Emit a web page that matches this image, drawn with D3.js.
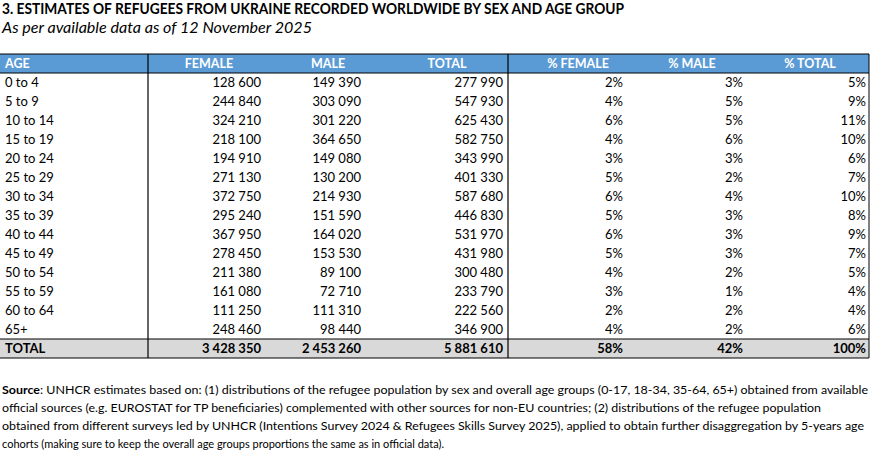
<!DOCTYPE html>
<html><head><meta charset="utf-8">
<script src="https://cdn.jsdelivr.net/npm/d3@7"></script>
<style>body{margin:0;background:#fff}text{font-family:Lato,"Noto Sans",sans-serif}</style>
</head><body><div id="chart"></div>
<script>
var ages = ["0 to 4","5 to 9","10 to 14","15 to 19","20 to 24","25 to 29","30 to 34","35 to 39","40 to 44","45 to 49","50 to 54","55 to 59","60 to 64","65+"];
var female = [128600,244840,324210,218100,194910,271130,372750,295240,367950,278450,211380,161080,111250,248460];
var male = [149390,303090,301220,364650,149080,130200,214930,151590,164020,153530,89100,72710,111310,98440];
var total = [277990,547930,625430,582750,343990,401330,587680,446830,531970,431980,300480,233790,222560,346900];
var pctFemale = [2,4,6,4,3,5,6,5,6,5,4,3,2,4];
var pctMale = [3,5,5,6,3,2,4,3,3,3,2,1,2,2];
var pctTotal = [5,9,11,10,6,7,10,8,9,7,5,4,4,6];
var totals = [3428350,2453260,5881610,58,42,100];
var headers = ["AGE","FEMALE","MALE","TOTAL","% FEMALE","% MALE","% TOTAL"];
var sourceLines = [
  ": UNHCR estimates based on: (1) distributions of the refugee population by sex and overall age groups (0-17, 18-34, 35-64, 65+) obtained from available",
  "official sources (e.g. EUROSTAT for TP beneficiaries) complemented with other sources for non-EU countries; (2) distributions of the refugee population",
  "obtained from different surveys led by UNHCR (Intentions Survey 2024 & Refugees Skills Survey 2025), applied to obtain further disaggregation by 5-years age",
  "cohorts (making sure to keep the overall age groups proportions the same as in official data)."
];

var W = 875, H = 461;
var svg = d3.select("#chart").append("svg").attr("width", W).attr("height", H);

var fmt = function(v) { return d3.format(",")(v).replace(/,/g, " "); };
var pct = function(v) { return v + "%"; };

// column right edges / header centres
var colRight = [5, 261, 361, 503, 623, 743, 866];
var headCenter = [5, 209, 328, 447, 578, 692, 810];
var y = d3.scaleBand().domain(d3.range(ages.length + 1)).range([73, 358]);

svg.append("text").attr("x", 2).attr("y", 14).attr("font-weight", "bold").attr("font-size", 15.5)
  .attr("textLength", 622).attr("lengthAdjust", "spacingAndGlyphs")
  .text("3. ESTIMATES OF REFUGEES FROM UKRAINE RECORDED WORLDWIDE BY SEX AND AGE GROUP");
svg.append("text").attr("x", 2).attr("y", 33).attr("font-style", "italic").attr("font-size", 15)
  .attr("textLength", 310).attr("lengthAdjust", "spacingAndGlyphs")
  .text("As per available data as of 12 November 2025");

// header
svg.append("rect").attr("x", 0).attr("y", 54).attr("width", 869).attr("height", 19).attr("fill", "#5b9bd5");
svg.append("rect").attr("x", 0).attr("y", y(ages.length)).attr("width", 869).attr("height", y.bandwidth()).attr("fill", "#d9d9d9");
svg.selectAll(".hd").data(headers).enter().append("text")
  .attr("x", function(d, i) { return headCenter[i]; })
  .attr("y", 68).attr("fill", "#fff").attr("font-weight", "bold").attr("font-size", 12.5)
  .attr("text-anchor", function(d, i) { return i == 0 ? "start" : "middle"; })
  .text(function(d) { return d; });

var rows = ages.map(function(a, i) {
  return [a, fmt(female[i]), fmt(male[i]), fmt(total[i]), pct(pctFemale[i]), pct(pctMale[i]), pct(pctTotal[i])];
});
rows.push(["TOTAL", fmt(totals[0]), fmt(totals[1]), fmt(totals[2]), pct(totals[3]), pct(totals[4]), pct(totals[5])]);

var g = svg.selectAll(".row").data(rows).enter().append("g")
  .attr("transform", function(d, i) { return "translate(0," + (y(i) + y.bandwidth() / 2 + 4.5) + ")"; });
g.selectAll("text").data(function(d, i) { return d.map(function(v) { return {v: v, bold: i == ages.length}; }); })
  .enter().append("text")
  .attr("x", function(d, j) { return colRight[j]; })
  .attr("text-anchor", function(d, j) { return j == 0 ? "start" : "end"; })
  .attr("font-size", 13).attr("fill", "#000")
  .attr("font-weight", function(d) { return d.bold ? "bold" : "normal"; })
  .text(function(d) { return d.v; });

// lines
var ln = function(x1, y1, x2, y2, w) {
  svg.append("line").attr("x1", x1).attr("y1", y1).attr("x2", x2).attr("y2", y2).attr("stroke", "#000").attr("stroke-width", w);
};
ln(0, 54, 869, 54, 1.2);
ln(0, 73, 869, 73, 1.2);
ln(0, y(ages.length), 869, y(ages.length), 1);
ln(0, 358, 869, 358, 1.2);
ln(148, 54, 148, 358, 1.2);
ln(508, 54, 508, 358, 1.2);
ln(869, 54, 869, 358, 1);

// source note
sourceLines.forEach(function(s, i) {
  var t = svg.append("text").attr("x", 2).attr("y", 394 + i * 18).attr("font-size", 11)
    .attr("textLength", i == 3 ? 442 : [866, 819, 862, 0][i]).attr("lengthAdjust", "spacingAndGlyphs");
  if (i == 0) t.append("tspan").attr("font-weight", "bold").text("Source");
  t.append("tspan").text(s);
});
</script></body></html>
